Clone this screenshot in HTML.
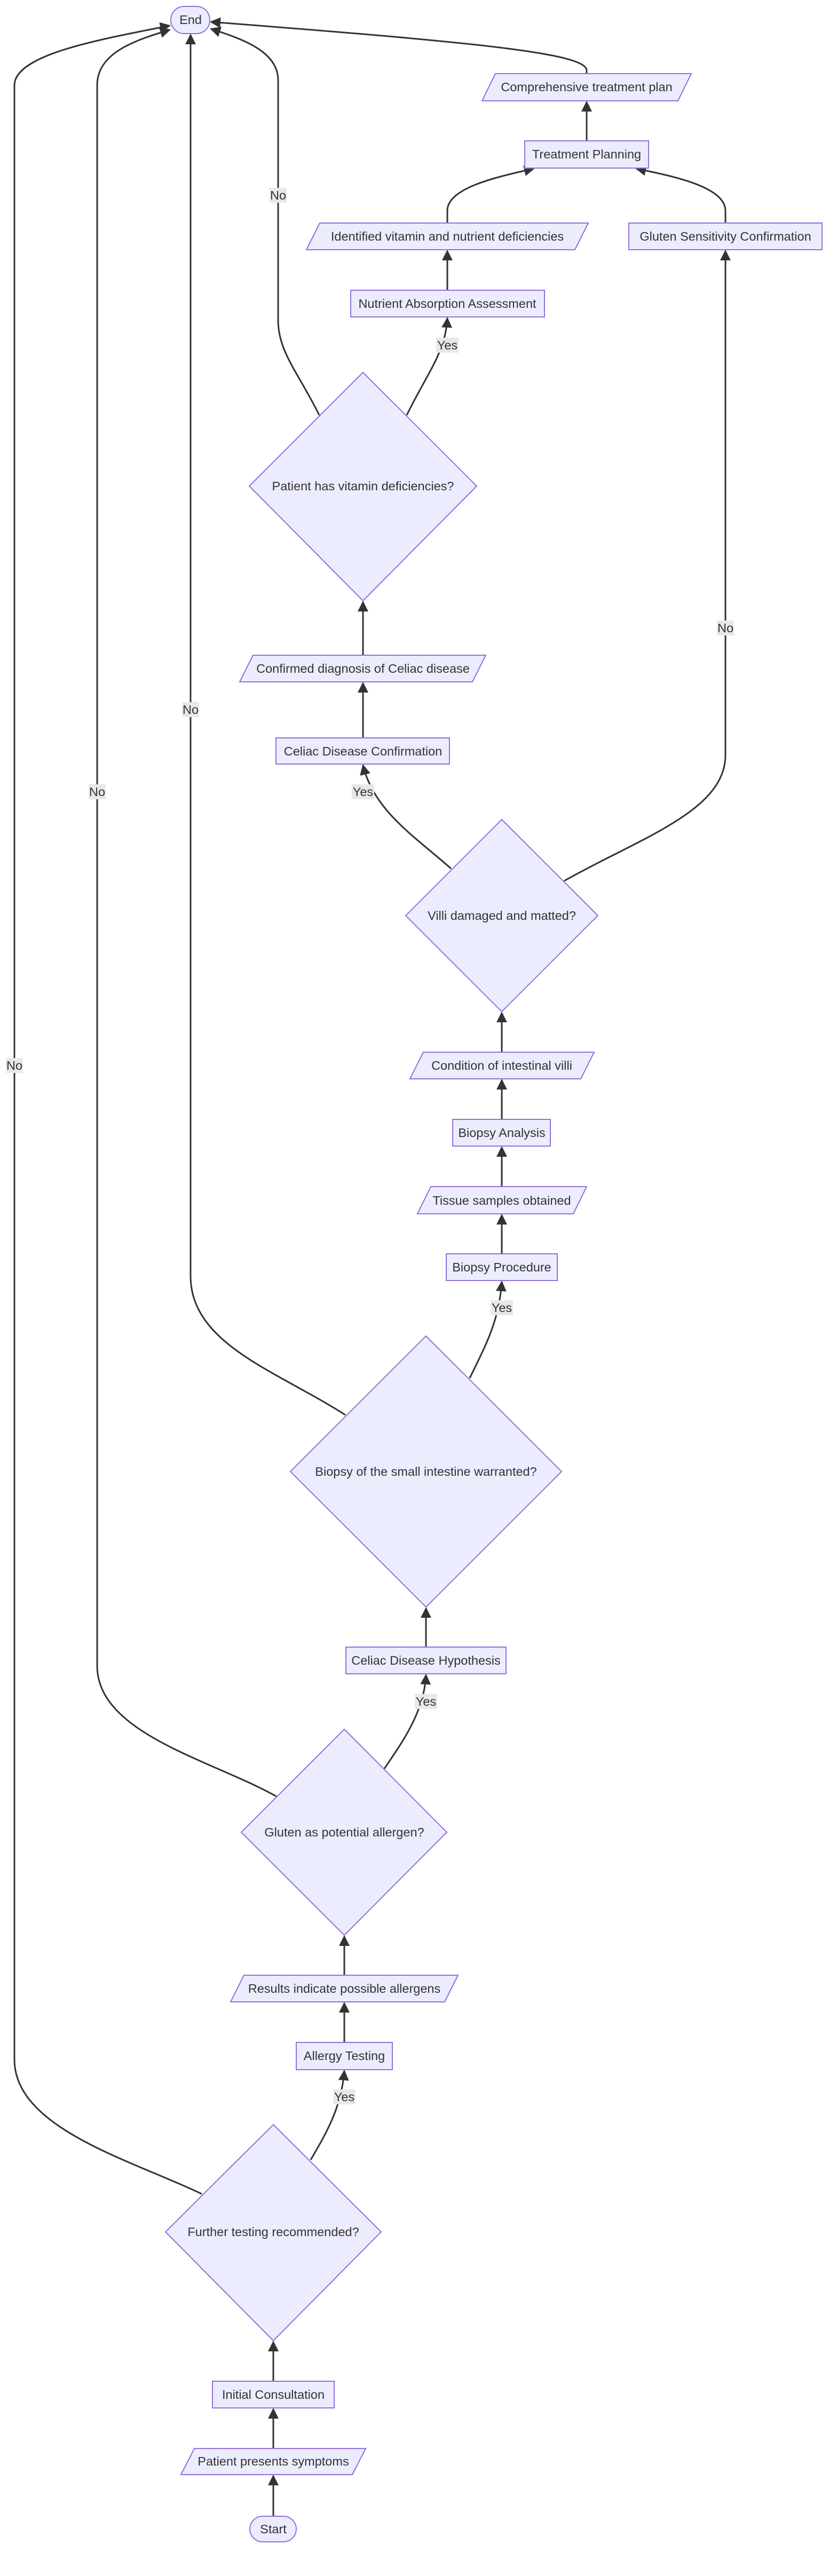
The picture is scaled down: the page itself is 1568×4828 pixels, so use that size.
<!DOCTYPE html>
<html><head><meta charset="utf-8"><style>
html,body{margin:0;padding:0;background:#fff;}
svg{display:block;}
text{font-family:"Liberation Sans","DejaVu Sans",sans-serif;font-size:23.5px;fill:#333;}
.n{fill:#ECECFF;stroke:#9370DB;stroke-width:2;}
.e{fill:none;stroke:#333;stroke-width:3;marker-end:url(#ah);}
.lb{fill:#e8e8e8;}
</style></head><body>
<svg width="1568" height="4828" viewBox="0 0 1568 4828" xmlns="http://www.w3.org/2000/svg">
<defs><marker id="ah" markerUnits="userSpaceOnUse" viewBox="0 0 10 10" refX="9" refY="5" markerWidth="20" markerHeight="20" orient="auto"><path d="M0,0 L10,5 L0,10 z" fill="#333"/></marker></defs>

<path class="e" d="M512,4716 L512,4640"/>
<path class="e" d="M512,4589 L512,4515"/>
<path class="e" d="M512,4463 L512,4389"/>
<path class="e" d="M582,4048 C610,4000 640,3950 645,3881"/>
<path class="e" d="M378,4112 C250,4050 27,3990 27,3860 L27,160 C27,100 200,72 318,48"/>
<path class="e" d="M645,3828 L645,3754"/>
<path class="e" d="M645,3702 L645,3629"/>
<path class="e" d="M720,3315 C750,3270 795,3210 798,3139"/>
<path class="e" d="M518,3367 C400,3300 182,3250 182,3122 L182,160 C182,100 250,76 318,56"/>
<path class="e" d="M798,3087 L798,3014"/>
<path class="e" d="M880,2583 C905,2530 935,2480 940,2402"/>
<path class="e" d="M647,2652 C520,2570 357,2520 357,2391 L357,65"/>
<path class="e" d="M940,2350 L940,2277"/>
<path class="e" d="M940,2224 L940,2150"/>
<path class="e" d="M940,2098 L940,2024"/>
<path class="e" d="M940,1972 L940,1898"/>
<path class="e" d="M845,1628 C780,1570 700,1520 680,1434"/>
<path class="e" d="M1057,1651 C1200,1570 1359,1520 1359,1415 L1359,470"/>
<path class="e" d="M680,1383 L680,1280"/>
<path class="e" d="M680,1228 L680,1128"/>
<path class="e" d="M762,778 C800,700 835,660 838,596"/>
<path class="e" d="M598,778 C560,700 521,660 521,600 L521,150 C521,95 450,72 395,54"/>
<path class="e" d="M838,544 L838,470"/>
<path class="e" d="M838,418 L838,395 C838,350 940,330 1000,316"/>
<path class="e" d="M1359,418 L1359,395 C1359,350 1260,330 1192,316"/>
<path class="e" d="M1099,264 L1099,191"/>
<path class="e" d="M1099,138 L1099,132 C1099,100 900,80 395,41"/>

<rect class="lb" x="817" y="633" width="42" height="28"/><text x="838" y="655" text-anchor="middle">Yes</text>
<rect class="lb" x="505" y="352" width="32" height="28"/><text x="521" y="374" text-anchor="middle">No</text>
<rect class="lb" x="1343" y="1163" width="32" height="28"/><text x="1359" y="1185" text-anchor="middle">No</text>
<rect class="lb" x="341" y="1316" width="32" height="28"/><text x="357" y="1338" text-anchor="middle">No</text>
<rect class="lb" x="166" y="1470" width="32" height="28"/><text x="182" y="1492" text-anchor="middle">No</text>
<rect class="lb" x="659" y="1470" width="42" height="28"/><text x="680" y="1492" text-anchor="middle">Yes</text>
<rect class="lb" x="11" y="1983" width="32" height="28"/><text x="27" y="2005" text-anchor="middle">No</text>
<rect class="lb" x="919" y="2437" width="42" height="28"/><text x="940" y="2459" text-anchor="middle">Yes</text>
<rect class="lb" x="777" y="3175" width="42" height="28"/><text x="798" y="3197" text-anchor="middle">Yes</text>
<rect class="lb" x="624" y="3916" width="42" height="28"/><text x="645" y="3938" text-anchor="middle">Yes</text>

<rect class="n" x="320" y="12" width="73" height="51" rx="25"/><text x="357" y="45" text-anchor="middle">End</text>
<polygon class="n" points="928,138 1295,138 1270,189 903,189"/><text x="1099" y="171" text-anchor="middle">Comprehensive treatment plan</text>
<rect class="n" x="983" y="264" width="232" height="51"/><text x="1099" y="297" text-anchor="middle">Treatment Planning</text>
<polygon class="n" points="599,418 1102,418 1077,468 574,468"/><text x="838" y="451" text-anchor="middle">Identified vitamin and nutrient deficiencies</text>
<rect class="n" x="1178" y="418" width="362" height="50"/><text x="1359" y="451" text-anchor="middle">Gluten Sensitivity Confirmation</text>
<rect class="n" x="657" y="544" width="363" height="50"/><text x="838" y="577" text-anchor="middle">Nutrient Absorption Assessment</text>
<polygon class="n" points="680,698 893,911 680,1126 467,911"/><text x="680" y="919" text-anchor="middle">Patient has vitamin deficiencies?</text>
<polygon class="n" points="474,1228 910,1228 885,1278 449,1278"/><text x="680" y="1261" text-anchor="middle">Confirmed diagnosis of Celiac disease</text>
<rect class="n" x="517" y="1383" width="325" height="49"/><text x="680" y="1416" text-anchor="middle">Celiac Disease Confirmation</text>
<polygon class="n" points="940,1536 1120,1716 940,1896 760,1716"/><text x="940" y="1724" text-anchor="middle">Villi damaged and matted?</text>
<polygon class="n" points="793,1972 1113,1972 1088,2022 768,2022"/><text x="940" y="2005" text-anchor="middle">Condition of intestinal villi</text>
<rect class="n" x="848" y="2098" width="183" height="50"/><text x="940" y="2131" text-anchor="middle">Biopsy Analysis</text>
<polygon class="n" points="807,2224 1099,2224 1074,2275 782,2275"/><text x="940" y="2258" text-anchor="middle">Tissue samples obtained</text>
<rect class="n" x="836" y="2350" width="208" height="50"/><text x="940" y="2383" text-anchor="middle">Biopsy Procedure</text>
<polygon class="n" points="798,2504 1052,2758 798,3012 544,2758"/><text x="798" y="2766" text-anchor="middle">Biopsy of the small intestine warranted?</text>
<rect class="n" x="648" y="3087" width="300" height="50"/><text x="798" y="3120" text-anchor="middle">Celiac Disease Hypothesis</text>
<polygon class="n" points="645,3241 837,3434 645,3627 452,3434"/><text x="645" y="3442" text-anchor="middle">Gluten as potential allergen?</text>
<polygon class="n" points="457,3702 858,3702 833,3752 432,3752"/><text x="645" y="3735" text-anchor="middle">Results indicate possible allergens</text>
<rect class="n" x="555" y="3828" width="180" height="51"/><text x="645" y="3861" text-anchor="middle">Allergy Testing</text>
<polygon class="n" points="512,3982 714,4183 512,4387 310,4183"/><text x="512" y="4191" text-anchor="middle">Further testing recommended?</text>
<rect class="n" x="398" y="4463" width="228" height="50"/><text x="512" y="4496" text-anchor="middle">Initial Consultation</text>
<polygon class="n" points="364,4589 685,4589 660,4638 339,4638"/><text x="512" y="4621" text-anchor="middle">Patient presents symptoms</text>
<rect class="n" x="468" y="4716" width="87" height="48" rx="24"/><text x="512" y="4748" text-anchor="middle">Start</text>
</svg>
</body></html>
